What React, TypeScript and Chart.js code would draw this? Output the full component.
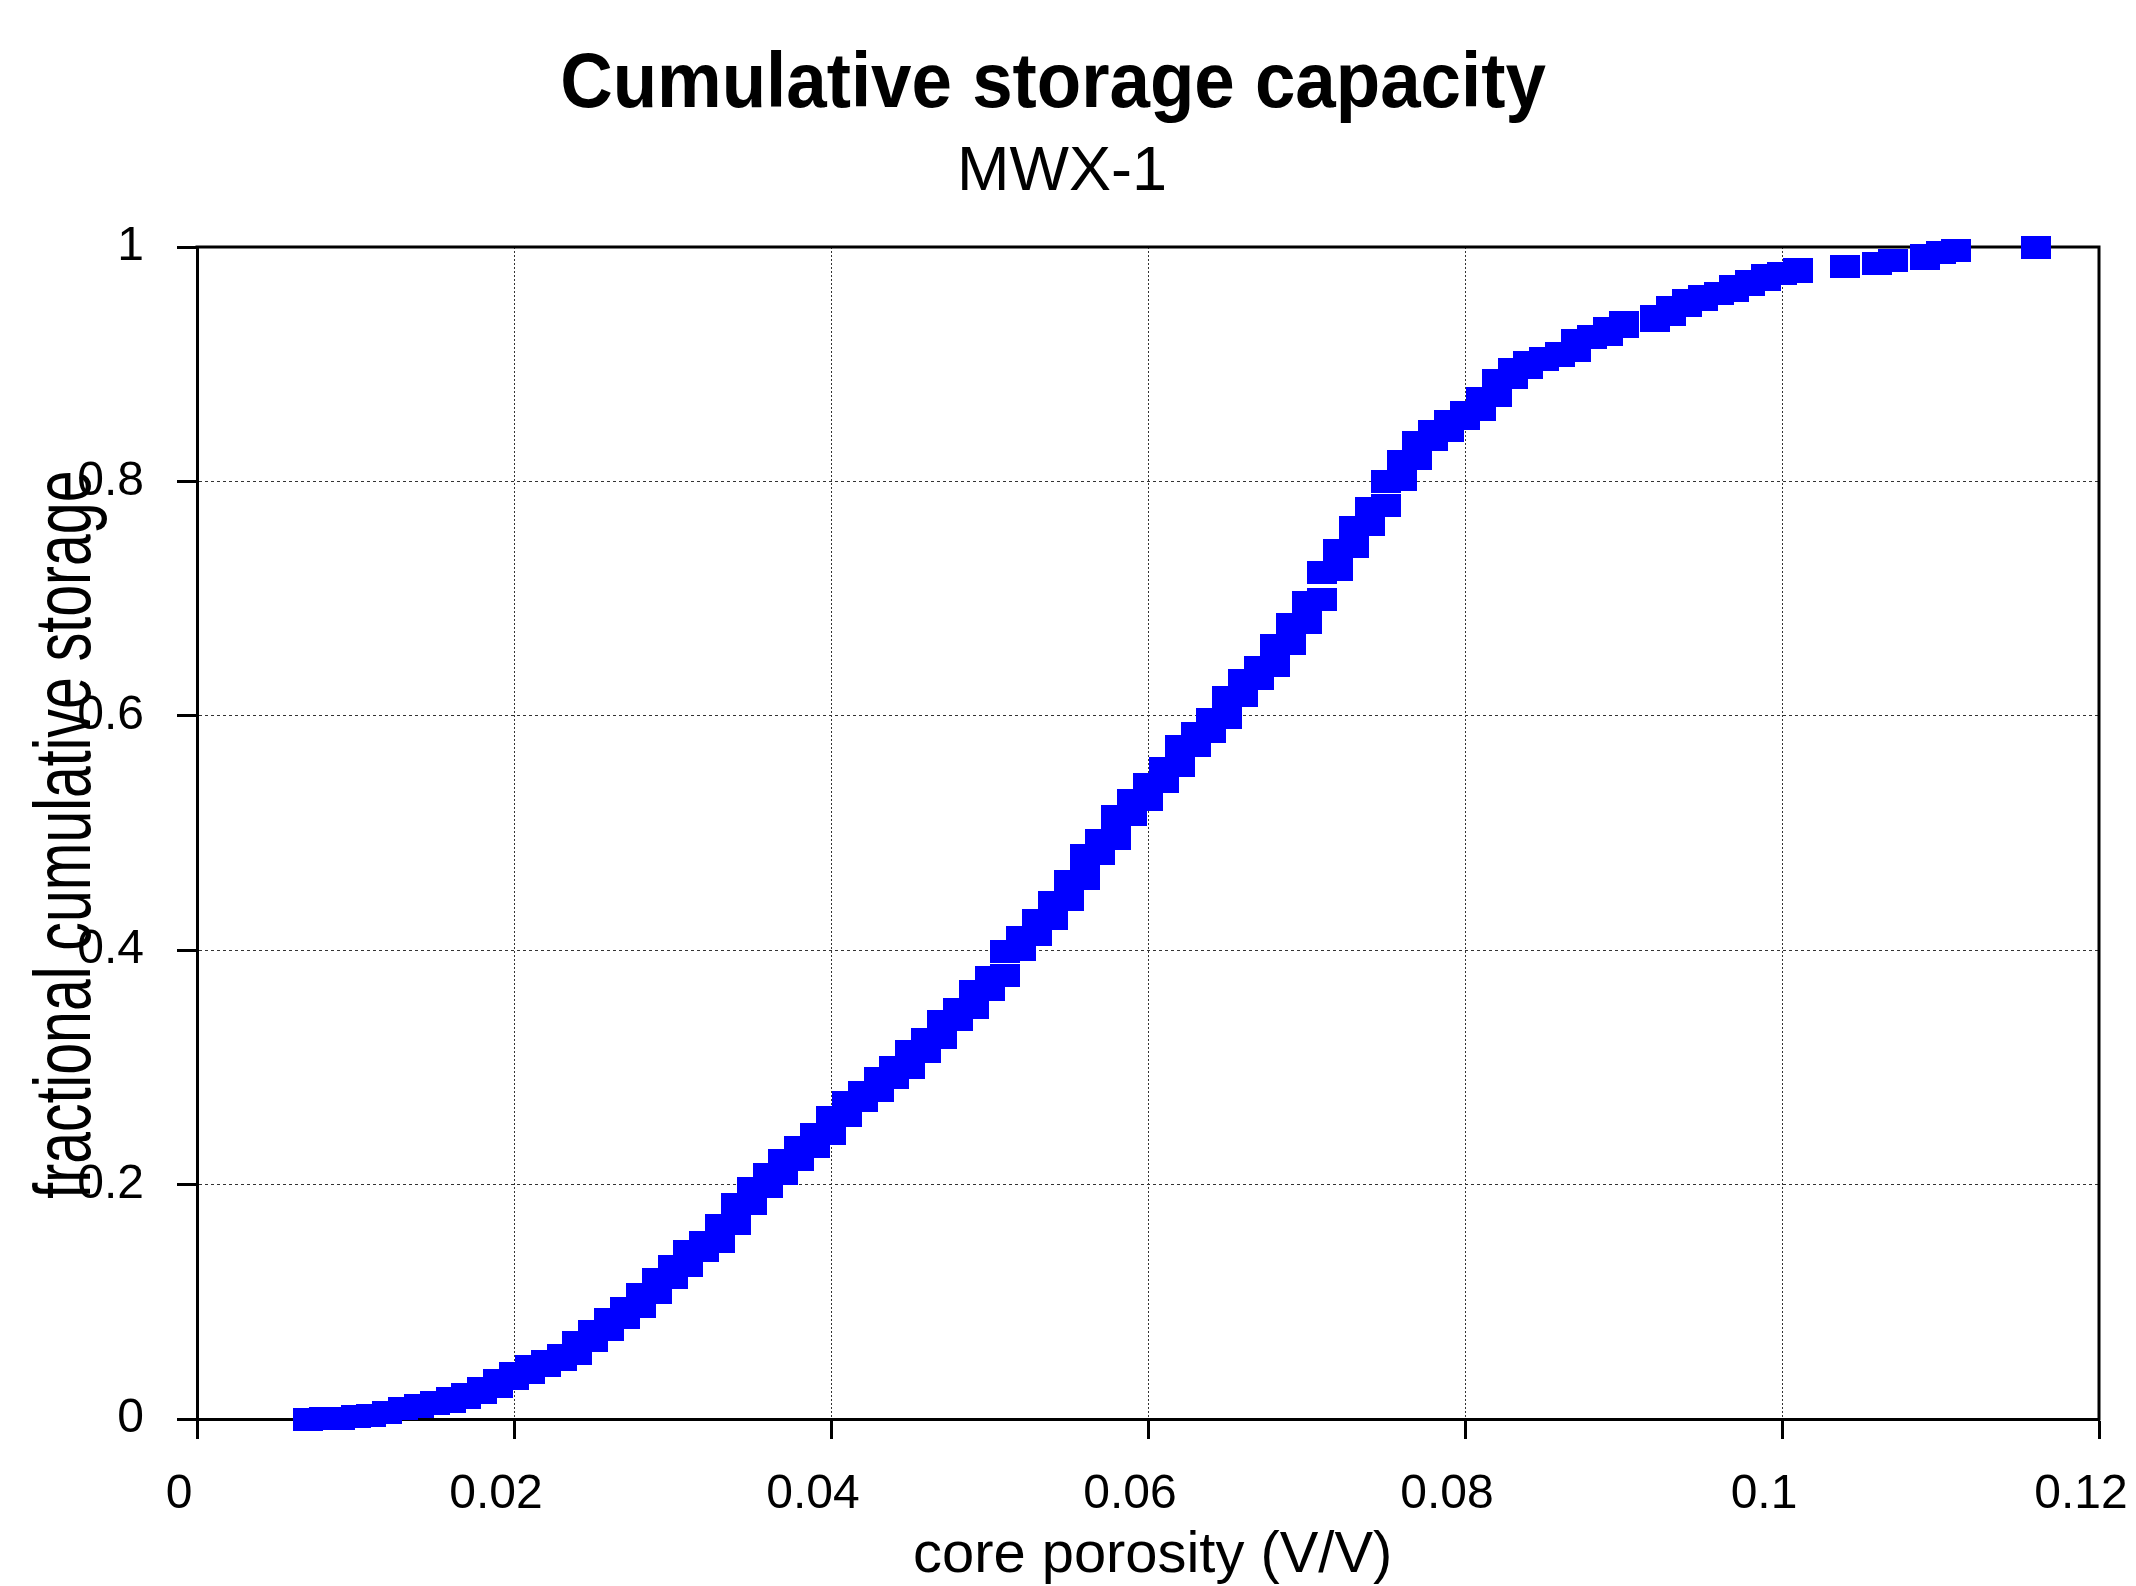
import React, { useEffect, useRef } from 'react';
import { Chart, registerables } from 'chart.js';

Chart.register(...registerables);

const TITLE = 'Cumulative storage capacity';
const SUBTITLE = 'MWX-1';
const X_TITLE = 'core porosity (V/V)';
const Y_TITLE = 'fractional cumulative storage';

// porosity bins (V/V)
const binPorosity = [
  0.007, 0.008, 0.009, 0.010, 0.011, 0.012, 0.013, 0.014, 0.015, 0.016,
  0.017, 0.018, 0.019, 0.020, 0.021, 0.022, 0.023, 0.024, 0.025, 0.026,
  0.027, 0.028, 0.029, 0.030, 0.031, 0.032, 0.033, 0.034, 0.035, 0.036,
  0.037, 0.038, 0.039, 0.040, 0.041, 0.042, 0.043, 0.044, 0.045, 0.046,
  0.047, 0.048, 0.049, 0.050, 0.051, 0.052, 0.053, 0.054, 0.055, 0.056,
  0.057, 0.058, 0.059, 0.060, 0.061, 0.062, 0.063, 0.064, 0.065, 0.066,
  0.067, 0.068, 0.069, 0.070, 0.071, 0.072, 0.073, 0.074, 0.075, 0.076,
  0.077, 0.078, 0.079, 0.080, 0.081, 0.082, 0.083, 0.084, 0.085, 0.086,
  0.087, 0.088, 0.089, 0.090, 0.092, 0.093, 0.094, 0.095, 0.096, 0.097,
  0.098, 0.099, 0.100, 0.101, 0.104, 0.106, 0.107, 0.109, 0.110, 0.111,
  0.116,
];

// lowest cumulative storage plotted in each bin
const binLow = [
  0, 0.0002, 0.0004, 0.0024, 0.0032, 0.0058, 0.0086, 0.0109, 0.013, 0.0153,
  0.0185, 0.0222, 0.0277, 0.0342, 0.0398, 0.0456, 0.0505, 0.0555, 0.0668, 0.076,
  0.0864, 0.0956, 0.1079, 0.1204, 0.1308, 0.1435, 0.1517, 0.1667, 0.1843, 0.1984,
  0.2097, 0.2212, 0.2326, 0.2434, 0.2587, 0.2718, 0.28, 0.2913, 0.3002, 0.3138,
  0.3256, 0.3406, 0.351, 0.3667, 0.3784, 0.4006, 0.4134, 0.4271, 0.4431, 0.461,
  0.4823, 0.4953, 0.5155, 0.5288, 0.544, 0.5573, 0.5749, 0.5867, 0.5985, 0.6176,
  0.6317, 0.6431, 0.6621, 0.68, 0.699, 0.7246, 0.7441, 0.7634, 0.7798, 0.8018,
  0.8198, 0.8354, 0.8438, 0.8533, 0.8617, 0.8735, 0.8887, 0.8975, 0.9036, 0.9078,
  0.9116, 0.9232, 0.9254, 0.932, 0.9371, 0.9422, 0.9505, 0.9556, 0.9602, 0.9633,
  0.9681, 0.9724, 0.9774, 0.9795, 0.9832, 0.986, 0.9889, 0.9903, 0.995, 0.9972,
  1,
];

// highest cumulative storage plotted in each bin
const binHigh = [
  0, 0.0002, 0.0004, 0.0024, 0.0032, 0.0058, 0.0088, 0.0111, 0.0143, 0.0172,
  0.0206, 0.0257, 0.0331, 0.0385, 0.045, 0.0493, 0.0542, 0.065, 0.0743, 0.0849,
  0.094, 0.1065, 0.119, 0.1298, 0.1426, 0.151, 0.1654, 0.1827, 0.1967, 0.2088,
  0.2202, 0.2313, 0.2424, 0.2571, 0.2701, 0.2783, 0.2904, 0.2995, 0.3132, 0.324,
  0.3393, 0.3497, 0.3648, 0.3771, 0.399, 0.4112, 0.4253, 0.4405, 0.4588, 0.4805,
  0.4934, 0.5137, 0.5277, 0.5415, 0.5548, 0.5735, 0.5845, 0.5967, 0.6157, 0.6299,
  0.6412, 0.6599, 0.6775, 0.6965, 0.7224, 0.741, 0.7608, 0.7772, 0.7997, 0.8172,
  0.8329, 0.8424, 0.8511, 0.8591, 0.8709, 0.8862, 0.8957, 0.9014, 0.9052, 0.9094,
  0.9205, 0.9235, 0.9303, 0.9357, 0.9405, 0.9488, 0.9542, 0.9579, 0.9602, 0.9667,
  0.9704, 0.9758, 0.9774, 0.9809, 0.9832, 0.986, 0.9889, 0.9928, 0.995, 0.9972,
  1,
];

const xTicks = [0, 0.02, 0.04, 0.06, 0.08, 0.1, 0.12];
const yTicks = [0, 0.2, 0.4, 0.6, 0.8, 1];

const FONT = '"Liberation Sans", Arial, Helvetica, sans-serif';

function fmt(v: number): string {
  return String(parseFloat(Number(v).toFixed(4)));
}

function drawFitted(
  ctx: CanvasRenderingContext2D,
  text: string,
  font: string,
  start: number,
  end: number,
  base: number,
  rotated: boolean
) {
  ctx.save();
  ctx.font = font;
  ctx.fillStyle = '#000000';
  ctx.textAlign = 'left';
  ctx.textBaseline = 'alphabetic';
  const m = ctx.measureText(text);
  const ink = m.actualBoundingBoxLeft + m.actualBoundingBoxRight;
  const s = Math.abs(end - start) / ink;
  if (rotated) {
    ctx.translate(base, start);
    ctx.rotate(-Math.PI / 2);
  } else {
    ctx.translate(start, base);
  }
  ctx.scale(s, 1);
  ctx.fillText(text, m.actualBoundingBoxLeft, 0);
  ctx.restore();
}

const decorPlugin = {
  id: 'decor',
  beforeDatasetsDraw(chart: any) {
    const { ctx, chartArea: a } = chart;
    ctx.save();
    ctx.strokeStyle = '#000000';
    ctx.lineWidth = 3;
    ctx.setLineDash([]);
    ctx.beginPath();
    ctx.moveTo(a.left - 1.5, a.top);
    ctx.lineTo(a.right, a.top);
    ctx.lineTo(a.right, a.bottom + 1.5);
    ctx.stroke();
    ctx.restore();
  },
  afterDraw(chart: any) {
    const ctx = chart.ctx as CanvasRenderingContext2D;
    drawFitted(ctx, TITLE, `bold 77px ${FONT}`, 563, 1546, 107, false);
    drawFitted(ctx, SUBTITLE, `63px ${FONT}`, 962, 1164, 190, false);
    drawFitted(ctx, X_TITLE, `58px ${FONT}`, 915, 1389, 1572, false);
    drawFitted(ctx, Y_TITLE, `80px ${FONT}`, 1198, 473, 90, true);
  },
};

export default function App() {
  const ref = useRef<HTMLCanvasElement | null>(null);

  useEffect(() => {
    document.body.style.margin = '0';
    document.body.style.overflow = 'hidden';
    const canvas = ref.current;
    if (!canvas) return;

    const marker = document.createElement('canvas');
    marker.width = 30;
    marker.height = 23;
    const mctx = marker.getContext('2d');
    if (mctx) {
      mctx.fillStyle = '#0000ff';
      mctx.fillRect(0, 0, 30, 23);
    }

    const points: { x: number; y: number }[] = [];
    binPorosity.forEach((p, i) => {
      points.push({ x: p, y: binLow[i] });
      if (binHigh[i] !== binLow[i]) points.push({ x: p, y: binHigh[i] });
    });

    const chart = new Chart(canvas, {
      type: 'scatter',
      data: {
        datasets: [
          {
            label: 'MWX-1',
            data: points,
            pointStyle: marker as any,
            pointRadius: 15,
            pointHoverRadius: 15,
            backgroundColor: '#0000ff',
            borderColor: '#0000ff',
            pointBorderWidth: 0,
            showLine: false,
            clip: false as any,
          },
        ],
      },
      options: {
        animation: false,
        responsive: false,
        devicePixelRatio: 1,
        events: [],
        layout: { padding: { top: 247, right: 37, bottom: 0, left: 0 } },
        plugins: {
          legend: { display: false },
          title: { display: false },
          tooltip: { enabled: false },
        },
        scales: {
          x: {
            type: 'linear',
            min: 0,
            max: 0.12,
            afterBuildTicks: (scale: any) => {
              scale.ticks = xTicks.map((v) => ({ value: v }));
            },
            afterFit: (scale: any) => {
              scale.height = 167;
              scale.paddingLeft = 0;
              scale.paddingRight = 0;
            },
            ticks: {
              color: '#000000',
              font: { family: FONT, size: 48 },
              padding: 27,
              labelOffset: -18,
              maxRotation: 0,
              autoSkip: false,
              callback: (v: any) => fmt(v),
            },
            grid: {
              color: '#333333',
              lineWidth: 1,
              drawTicks: true,
              tickLength: 20,
              tickColor: '#000000',
              tickWidth: 3,
            },
            border: { display: true, color: '#000000', width: 3, dash: [2, 2] },
          },
          y: {
            type: 'linear',
            min: 0,
            max: 1,
            afterBuildTicks: (scale: any) => {
              scale.ticks = yTicks.map((v) => ({ value: v }));
            },
            afterFit: (scale: any) => {
              scale.width = 197;
              scale.paddingTop = 0;
              scale.paddingBottom = 0;
            },
            ticks: {
              color: '#000000',
              font: { family: FONT, size: 48 },
              padding: 33,
              autoSkip: false,
              callback: (v: any) => fmt(v),
            },
            grid: {
              color: '#333333',
              lineWidth: 1,
              drawTicks: true,
              tickLength: 20,
              tickColor: '#000000',
              tickWidth: 3,
            },
            border: { display: true, color: '#000000', width: 3, dash: [3, 3] },
          },
        },
      } as any,
      plugins: [decorPlugin],
    });

    return () => {
      chart.destroy();
    };
  }, []);

  return (
    <div>
      <canvas ref={ref} width={2136} height={1586} style={{ display: 'block' }} />
    </div>
  );
}
